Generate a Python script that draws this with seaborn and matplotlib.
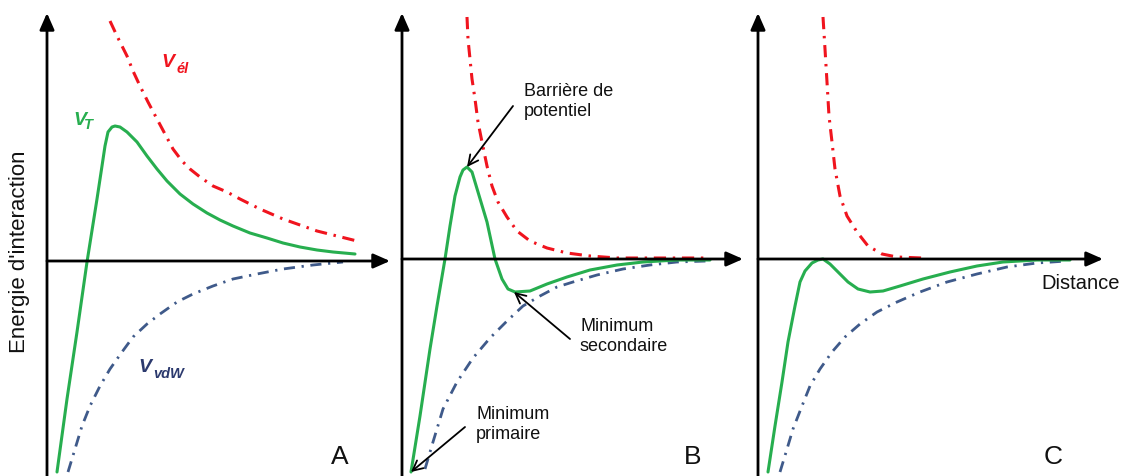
import matplotlib
matplotlib.use("Agg")
import matplotlib.pyplot as plt
import seaborn as sns

sns.set_theme(style="white")
plt.rcParams["font.family"] = ["Liberation Sans", "DejaVu Sans"]

# ---- Interaction energy curves (arbitrary units: distance, energy) ----
# Panel A : high energy barrier
a_el_d = [63, 70, 80, 86, 93, 101, 110, 118, 126, 135, 143, 153, 166, 180, 193,
          213, 236, 253, 270, 290, 310]
a_el_e = [240, 225, 205, 190, 175, 159, 142, 127, 112, 100, 92, 84, 75, 69, 62,
          52, 42, 36, 30, 25, 20]
a_t_d = [10, 20, 30, 40, 50, 55, 58, 61, 65, 68, 73, 80, 90, 100, 110, 120, 133,
         146, 160, 173, 186, 203, 220, 236, 253, 270, 286, 308]
a_t_e = [-211, -138, -71, -1, 62, 95, 115, 129, 134, 135, 134, 129, 119, 105,
         92, 80, 67, 57, 48, 41, 35, 28, 23, 18, 14, 11, 9, 7]
a_vdw_d = [21, 28, 35, 43, 53, 63, 75, 86, 100, 113, 130, 146, 166, 186, 210,
           236, 266, 296]
a_vdw_e = [-211, -188, -165, -145, -125, -108, -91, -76, -63, -53, -41, -33,
           -25, -18, -13, -8, -4, -1]

# Panel B : barrier with primary and secondary minima
b_el_d = [65, 66, 68, 70, 73, 76, 80, 85, 90, 96, 105, 115, 128, 145, 165, 188,
          215, 248, 308]
b_el_e = [242, 220, 200, 180, 160, 137, 117, 93, 73, 57, 42, 28, 18, 11, 6, 3,
          1, 1, 1]
b_t_d = [9, 18, 28, 35, 43, 48, 53, 58, 61, 65, 70, 76, 85, 93, 100, 106, 113,
         128, 145, 165, 188, 215, 241, 275, 308]
b_t_e = [-213, -157, -90, -47, 0, 33, 63, 82, 89, 92, 87, 67, 37, 0, -20, -30,
         -33, -32, -25, -18, -11, -6, -3, -1, -1]
b_vdw_d = [23, 31, 41, 55, 71, 88, 105, 121, 138, 155, 171, 195, 221, 248, 275,
           305]
b_vdw_e = [-210, -183, -150, -123, -99, -79, -62, -47, -37, -28, -23, -16, -10,
           -6, -3, -2]

# Panel C : no barrier
c_el_d = [65, 67, 69, 71, 74, 77, 82, 89, 99, 110, 124, 139, 164]
c_el_e = [242, 210, 177, 143, 117, 90, 63, 43, 27, 13, 5, 2, 1]
c_t_d = [10, 17, 24, 30, 37, 42, 47, 54, 60, 65, 72, 80, 90, 100, 112, 125, 142,
         165, 192, 219, 245, 279, 312]
c_t_e = [-213, -167, -123, -83, -47, -23, -12, -4, -1, 0, -5, -13, -23, -30,
         -33, -32, -27, -20, -13, -7, -3, -1, -1]
c_vdw_d = [22, 29, 35, 44, 52, 62, 74, 87, 102, 119, 139, 162, 189, 219, 249,
           279, 309]
c_vdw_e = [-213, -190, -170, -147, -127, -110, -93, -78, -65, -53, -43, -33,
           -23, -15, -8, -4, -2]

panel_letters = ["A", "B", "C"]
ylabel_text = "Energie d'interaction"
xlabel_text = "Distance"

RED = "#f0141e"
GREEN = "#27ae4f"
BLUE = "#3f5a8a"
NAVY = "#2c3a6e"
INK = "#111111"

W, H = 1133, 477
fig = plt.figure(figsize=(W / 100, H / 100), dpi=100)

# (left pixel of the energy axis, pixel row of the distance axis, length of distance axis)
panels = [(47, 262, 343), (402, 260, 341), (758, 260, 345)]
curves = [
    (a_el_d, a_el_e, a_t_d, a_t_e, a_vdw_d, a_vdw_e),
    (b_el_d, b_el_e, b_t_d, b_t_e, b_vdw_d, b_vdw_e),
    (c_el_d, c_el_e, c_t_d, c_t_e, c_vdw_d, c_vdw_e),
]
axes = []
for (x0, y0, xlen), (eld, ele, td, te, vd, ve), letter in zip(panels, curves, panel_letters):
    span = 360
    ax = fig.add_axes([x0 / W, 0, span / W, 1])
    ax.set_xlim(0, span)
    ax.set_ylim(-(H - y0), y0)
    ax.set_facecolor("none")
    ax.axis("off")

    sns.lineplot(x=eld, y=ele, ax=ax, sort=False, estimator=None, color=RED,
                 linewidth=2.2, linestyle=(0, (4, 2.2, 0.8, 2.2)))
    sns.lineplot(x=vd, y=ve, ax=ax, sort=False, estimator=None, color=BLUE,
                 linewidth=2.0, linestyle=(0, (4, 2.4, 0.8, 2.4)))
    sns.lineplot(x=td, y=te, ax=ax, sort=False, estimator=None, color=GREEN,
                 linewidth=2.2, solid_capstyle="round", solid_joinstyle="round")

    # energy and distance axes with arrow heads
    head = dict(arrowstyle="-|>,head_length=0.5,head_width=0.22", lw=2.0,
                color="black", shrinkA=0, shrinkB=0, mutation_scale=20)
    ax.annotate("", xy=(0, y0 - 14), xytext=(0, -(H - y0) - 2), arrowprops=head,
                annotation_clip=False)
    ax.annotate("", xy=(xlen, 0), xytext=(0, 0), arrowprops=head,
                annotation_clip=False)

    ax.text(xlen - 50, -(H - y0) + 20, letter, fontsize=19, ha="center",
            va="center", color=INK)
    axes.append(ax)

axA, axB, axC = axes


def vlabel(ax, x, y, sub, color, dx, dy):
    """Italic bold V with a subscript."""
    ax.text(x, y, "V", fontsize=14, fontweight="bold", fontstyle="italic",
            color=color, va="baseline", ha="left")
    ax.text(x + dx, y + dy, sub, fontsize=10.5, fontweight="bold",
            fontstyle="italic", color=color, va="baseline", ha="left")


vlabel(axA, 114, 195, "él", RED, 16, -6)
vlabel(axA, 26, 137, "T", GREEN, 11, -4)
vlabel(axA, 91, -110, "vdW", NAVY, 15, -6)

# annotations in panel B
note = dict(arrowstyle="->,head_length=0.6,head_width=0.3", lw=1.3,
            color="black", shrinkA=0, shrinkB=0, mutation_scale=12)
axB.annotate("", xy=(65, 92), xytext=(111, 153), arrowprops=note)
axB.text(122, 177, "Barrière de\npotentiel", fontsize=13, va="top", ha="left",
         linespacing=1.2, color=INK)
axB.annotate("", xy=(112, -33), xytext=(168, -80), arrowprops=note)
axB.text(178, -58, "Minimum\nsecondaire", fontsize=13, va="top", ha="left",
         linespacing=1.2, color=INK)
axB.annotate("", xy=(9, -213), xytext=(63, -168), arrowprops=note,
             annotation_clip=False)
axB.text(74, -146, "Minimum\nprimaire", fontsize=13, va="top", ha="left",
         linespacing=1.2, color=INK)

axC.text(283, -24, xlabel_text, fontsize=14.5, va="center", ha="left",
         color=INK)

fig.text(20 / W, 1 - 252 / H, ylabel_text, rotation=90, fontsize=16,
         ha="center", va="center", color=INK)

fig.savefig("out.png", dpi=100)
